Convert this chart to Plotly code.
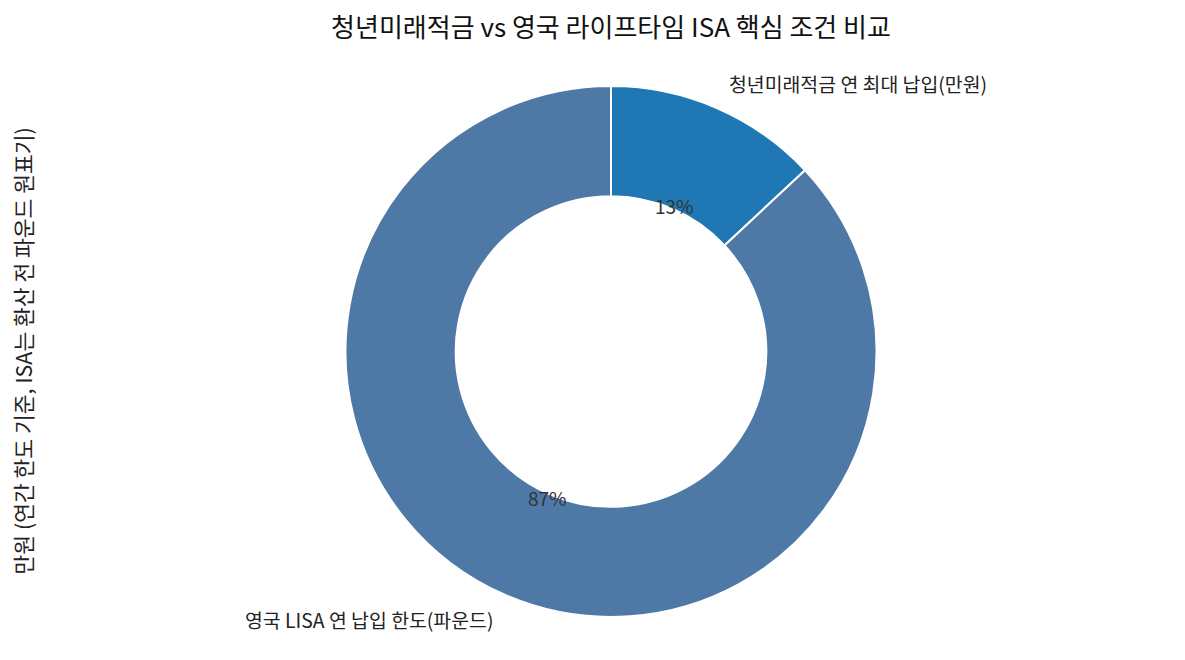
import math
import plotly.graph_objects as go

# 데이터
labels = ["청년미래적금 연 최대 납입(만원)", "영국 LISA 연 납입 한도(파운드)"]
values = [600, 4000]
colors = ["#1f77b4", "#4e79a7"]

title = "청년미래적금 vs 영국 라이프타임 ISA 핵심 조건 비교"
ylabel = "만원 (연간 한도 기준, ISA는 환산 전 파운드 원표기)"

FONT = "Noto Sans CJK KR, Noto Sans, sans-serif"
OFF = 8  # 페이지 body 여백 보정
W, H = 1185 - OFF, 660 - OFF
ml, mr, mt, mb = 80 - OFF, 43, 86 - OFF, 43
pw, ph = W - ml - mr, H - mt - mb
r_px = min(pw, ph) / 2
rx, ry = r_px / pw, r_px / ph

fig = go.Figure(go.Pie(
    labels=labels,
    values=values,
    hole=0.585,
    sort=False,
    direction="clockwise",
    rotation=0,
    marker=dict(colors=colors, line=dict(color="white", width=2)),
    textinfo="none",
    hoverinfo="label+value+percent",
    showlegend=False,
))

# 퍼센트 및 라벨 위치 (matplotlib 스타일)
total = sum(values)
start = 90.0
annotations = []
for lab, v in zip(labels, values):
    sweep = v / total * 360
    mid = math.radians(start - sweep / 2)
    start -= sweep
    c, s = math.cos(mid), math.sin(mid)
    annotations.append(dict(
        x=0.5 + 0.6 * rx * c, y=0.5 + 0.6 * ry * s,
        xref="paper", yref="paper", showarrow=False,
        text=f"{v / total * 100:.0f}%",
        font=dict(family=FONT, size=19, color="#333333"),
        xanchor="center", yanchor="middle",
    ))
    annotations.append(dict(
        x=0.5 + 1.1 * rx * c, y=0.5 + 1.1 * ry * s,
        xref="paper", yref="paper", showarrow=False,
        text=lab,
        font=dict(family=FONT, size=19.4, color="#222222"),
        xanchor="left" if c > 0 else "right", yanchor="middle",
    ))

annotations.append(dict(
    x=(22 - OFF - ml) / pw, y=0.5, xref="paper", yref="paper",
    showarrow=False, text=ylabel, textangle=-90,
    font=dict(family=FONT, size=21.5, color="#222222"),
    xanchor="center", yanchor="middle",
))

fig.update_layout(
    width=W, height=H,
    title=dict(text=title, x=(611 - OFF) / W, xanchor="center",
               y=1 - (28 - OFF) / H, yanchor="middle",
               font=dict(family=FONT, size=26, color="#111111")),
    margin=dict(l=ml, r=mr, t=mt, b=mb),
    paper_bgcolor="white",
    plot_bgcolor="white",
    annotations=annotations,
    font=dict(family=FONT),
)

fig.write_html("out.html")
